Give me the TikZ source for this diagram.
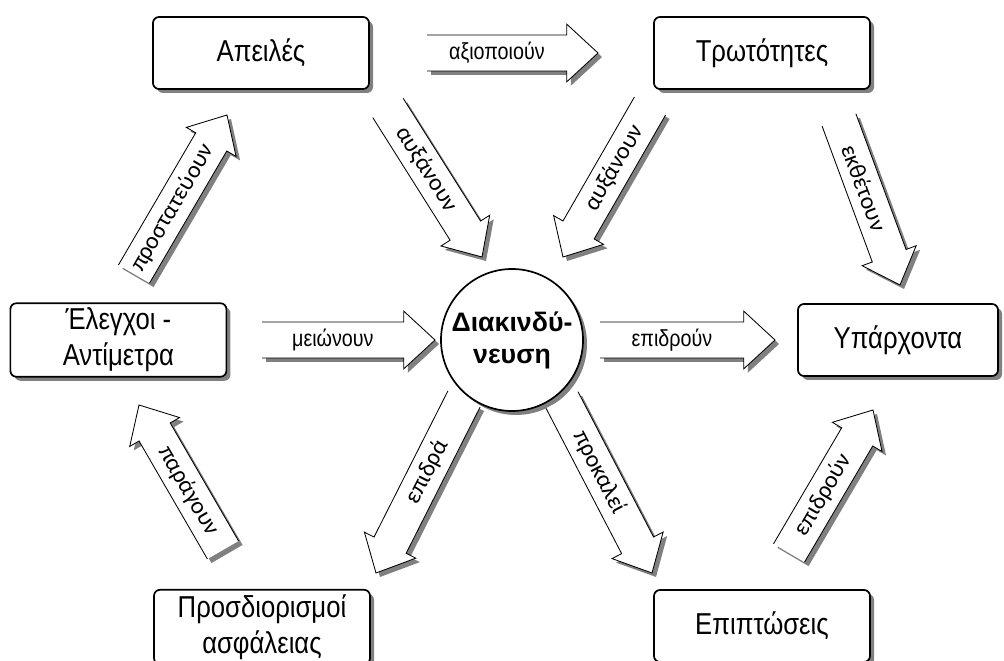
\documentclass[tikz,border=0pt]{standalone}
\usepackage{fontspec}
\setmainfont{Liberation Sans}
\newfontfamily\narrowfont{Liberation Sans}[FakeStretch=0.85]
\newfontfamily\slantfont{Carlito}
\usetikzlibrary{calc,shadows}

\tikzset{
  shadowed/.style={drop shadow={shadow xshift=0.1cm, shadow yshift=-0.1cm, fill=black!50, opacity=1}},
  entity/.style={draw, line width=1.2pt, rounded corners=0.15cm, fill=white, shadowed,
    minimum width=5.4cm, minimum height=1.8cm, align=center, font=\narrowfont\fontsize{21.5}{25.6}\selectfont},
  riskcircle/.style={circle, draw, line width=1.2pt, fill=white, shadowed, minimum size=3.55cm,
    inner sep=0pt, align=center, font=\bfseries\fontsize{19}{22.8}\selectfont},
  flatlabel/.style={font=\narrowfont\fontsize{16.5}{19}\selectfont},
  slantlabel/.style={font=\slantfont\fontsize{17}{20}\selectfont},
}

% περίγραμμα φαρδιού βέλους μήκους \arrlen (ουρά στην αρχή)
\newcommand\arrowoutline{(0,-0.45) -- (\arrlen-0.78,-0.45) -- (\arrlen-0.78,-0.72) -- (\arrlen,0)
  -- (\arrlen-0.78,0.72) -- (\arrlen-0.78,0.45) -- (0,0.45)}

% \bigarrow[στυλ ετικέτας]{ουρά}{αιχμή}{ετικέτα}
\newcommand\bigarrow[4][flatlabel]{%
  \path let \p1=($(#3)-(#2)$) in \pgfextra{%
    \pgfmathsetmacro\arrang{atan2(\y1,\x1)}%
    \pgfmathsetmacro\arrlen{veclen(\x1,\y1)/28.45274}%
    \pgfmathsetmacro\txtang{\arrang>90 ? \arrang-180 : (\arrang<-90 ? \arrang+180 : \arrang)}%
    \xdef\arrang{\arrang}\xdef\arrlen{\arrlen}\xdef\txtang{\txtang}};
  \fill[black!50, shift={($(#2)+(0.1,-0.1)$)}, rotate=\arrang] \arrowoutline -- cycle;
  \fill[white, shift={(#2)}, rotate=\arrang] \arrowoutline -- cycle;
  \draw[line width=0.6pt, shift={(#2)}, rotate=\arrang] \arrowoutline
    node[#1, rotate=\txtang] at ({(\arrlen-0.78)/2},0) {#4};
}

\begin{document}
\begin{tikzpicture}
  \useasboundingbox (0,0) rectangle (25.1,16.5);

  % οντότητες
  \node[entity] (ap) at (6.525,15.175) {Απειλές};
  \node[entity] (tr) at (19.05,15.175) {Τρωτότητες};
  \node[entity] (el) at (2.96,8) {Έλεγχοι -\\Αντίμετρα};
  \node[entity, minimum width=5cm] (yp) at (22.45,8) {Υπάρχοντα};
  \node[entity] (pr) at (6.55,0.825) {Προσδιορισμοί\\ασφάλειας};
  \node[entity] (ep) at (19.05,0.85) {Επιπτώσεις};
  \node[riskcircle] (risk) at (12.8,8) {Διακινδύ-\\νευση};

  % άκρα βελών
  \coordinate (ap-tr-a) at (10.675,15.175);  \coordinate (ap-tr-b) at (14.95,15.175);
  \coordinate (el-risk-a) at (6.55,8);       \coordinate (el-risk-b) at (10.875,8);
  \coordinate (risk-yp-a) at (15,8);         \coordinate (risk-yp-b) at (19.375,8);
  \coordinate (ap-risk-a) at (9.7,13.8);     \coordinate (ap-risk-b) at (12.05,10.075);
  \coordinate (tr-risk-a) at (16.25,13.85);  \coordinate (tr-risk-b) at (14.075,10.075);
  \coordinate (tr-yp-a) at (20.975,13.5);    \coordinate (tr-yp-b) at (22.5,9.375);
  \coordinate (el-ap-a) at (3.35,9.65);      \coordinate (el-ap-b) at (5.675,13.625);
  \coordinate (pr-el-a) at (5.575,2.75);     \coordinate (pr-el-b) at (3.475,6.375);
  \coordinate (risk-pr-a) at (11.6,6.525);   \coordinate (risk-pr-b) at (9.4,2.175);
  \coordinate (risk-ep-a) at (14.05,6.5);    \coordinate (risk-ep-b) at (16.3,2.175);
  \coordinate (ep-yp-a) at (19.725,2.675);   \coordinate (ep-yp-b) at (21.825,6.25);

  \bigarrow{ap-tr-a}{ap-tr-b}{αξιοποιούν}
  \bigarrow{el-risk-a}{el-risk-b}{μειώνουν}
  \bigarrow{risk-yp-a}{risk-yp-b}{επιδρούν}
  \bigarrow[slantlabel]{ap-risk-a}{ap-risk-b}{αυξάνουν}
  \bigarrow[slantlabel]{tr-risk-a}{tr-risk-b}{αυξάνουν}
  \bigarrow[slantlabel]{tr-yp-a}{tr-yp-b}{εκθέτουν}
  \bigarrow[slantlabel]{el-ap-a}{el-ap-b}{προστατεύουν}
  \bigarrow[slantlabel]{pr-el-a}{pr-el-b}{παράγουν}
  \bigarrow[slantlabel]{risk-pr-a}{risk-pr-b}{επιδρά}
  \bigarrow[slantlabel]{risk-ep-a}{risk-ep-b}{προκαλεί}
  \bigarrow[slantlabel]{ep-yp-a}{ep-yp-b}{επιδρούν}
\end{tikzpicture}
\end{document}
